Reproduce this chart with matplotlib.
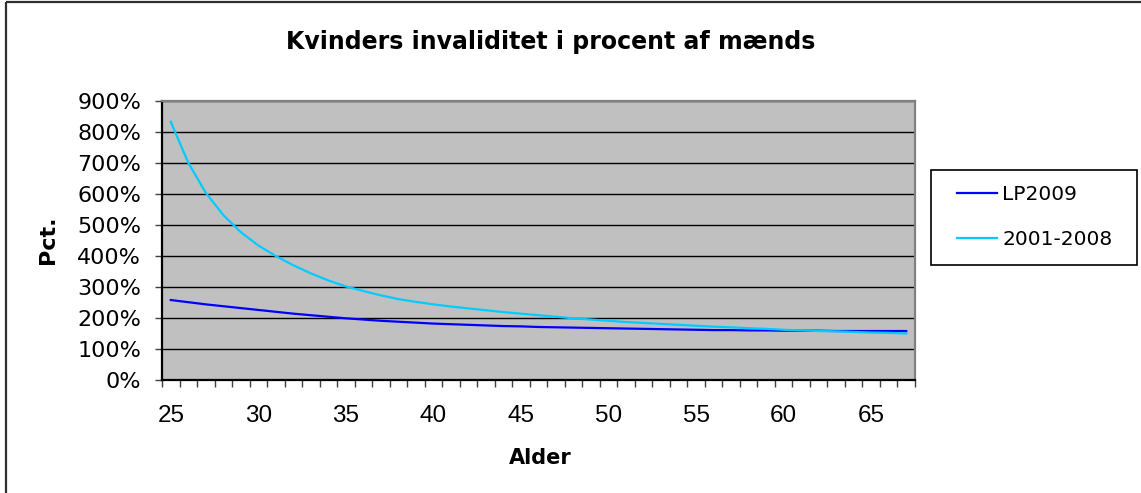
#!/usr/bin/env python3
import matplotlib
matplotlib.use("Agg")
import matplotlib.pyplot as plt
from matplotlib.lines import Line2D
from matplotlib.patches import Rectangle
import numpy as np

# Data (values in percent)
ages = list(range(25, 68))
lp2009 = [258, 251, 244, 238, 232, 226, 220, 214, 209, 204,
          199, 195, 191, 188, 185, 182, 180, 178, 176, 174,
          173, 171, 170, 169, 168, 167, 166, 165, 164, 163,
          162, 161, 161, 160, 160, 159, 159, 159, 158, 158,
          158, 158, 158]
obs_2001_2008 = [833, 701, 604, 532, 477, 434, 400, 370, 344, 321,
                 302, 287, 273, 261, 252, 244, 237, 231, 225, 219,
                 214, 209, 204, 199, 195, 191, 187, 184, 181, 178,
                 175, 172, 170, 167, 165, 162, 160, 158, 157, 155,
                 153, 152, 150]
series_names = ["LP2009", "2001-2008"]
series_colors = ["#0000FF", "#00CCFF"]
y_ticks = list(range(0, 1000, 100))

W, H = 1141, 493
fig = plt.figure(figsize=(W / 100, H / 100), dpi=100)
fig.patch.set_facecolor("white")

# Plot area in pixel coords: x 162..915, y 101..380
ax = fig.add_axes([162 / W, 1 - 380 / H, (915 - 162) / W, (380 - 101) / H])
ax.set_facecolor("#C0C0C0")

pos = np.arange(len(ages))
ax.plot(pos, lp2009, color=series_colors[0], lw=1.6)
ax.plot(pos, obs_2001_2008, color=series_colors[1], lw=1.6)

ax.set_xlim(-0.5, len(ages) - 0.5)
ax.set_ylim(0, 900)

# y axis: percent labels, black gridlines
ax.set_yticks(y_ticks)
ax.set_yticklabels([f"{v}%" for v in y_ticks], fontsize=16, family="DejaVu Sans")
ax.tick_params(axis="y", direction="out", length=5, width=1, color="#404040", pad=10)
ax.yaxis.grid(True, color="black", lw=1)
ax.set_axisbelow(True)

# x axis: labels every 5 years, tick marks between categories
label_ages = [a for a in ages if a % 5 == 0]
ax.set_xticks([ages.index(a) for a in label_ages])
ax.set_xticklabels([str(a) for a in label_ages], fontsize=17.5, family="Liberation Sans")
ax.tick_params(axis="x", length=0, pad=18)
ax.set_xticks(np.arange(-0.5, len(ages)), minor=True)
ax.tick_params(axis="x", which="minor", direction="out", length=5, width=1, color="#404040")

for side in ["left", "bottom"]:
    ax.spines[side].set_color("black")
    ax.spines[side].set_linewidth(1.6)
for side in ["top", "right"]:
    ax.spines[side].set_color("#808080")
    ax.spines[side].set_linewidth(1.6)

# Titles and axis labels
fig.text(551 / W, 1 - 42 / H, "Kvinders invaliditet i procent af mænds",
         ha="center", va="center", fontsize=17, fontweight="bold", family="DejaVu Sans")
fig.text(48 / W, 1 - 240 / H, "Pct.", rotation=90, ha="center", va="center",
         fontsize=16, fontweight="bold", family="DejaVu Sans")
fig.text(540 / W, 1 - 458 / H, "Alder", ha="center", va="center",
         fontsize=15, fontweight="bold", family="DejaVu Sans")

# Legend box drawn separately, entries from legend
fig.patches.append(Rectangle((931 / W, 1 - 265 / H), (1137 - 931) / W, (265 - 170) / H,
                             transform=fig.transFigure, fill=False, edgecolor="black", lw=1.2))
handles = [Line2D([], [], color=c, lw=1.6) for c in series_colors]
fig.legend(handles, series_names, loc="center left", bbox_to_anchor=(957 / W, 1 - 217 / H),
           frameon=False, fontsize=14.5, handlelength=2.0, handletextpad=0.25,
           labelspacing=1.25, borderpad=0, borderaxespad=0)

# Outer chart border (only top and left edges are visible in the crop)
fig.add_artist(Line2D([6 / W, 6 / W], [0, 1 - 2 / H], transform=fig.transFigure,
                      color="#303030", lw=1.6, solid_capstyle="butt"))
fig.add_artist(Line2D([6 / W, 1.01], [1 - 2 / H, 1 - 2 / H], transform=fig.transFigure,
                      color="#303030", lw=1.6, solid_capstyle="butt"))

fig.savefig("out.png", dpi=100)
